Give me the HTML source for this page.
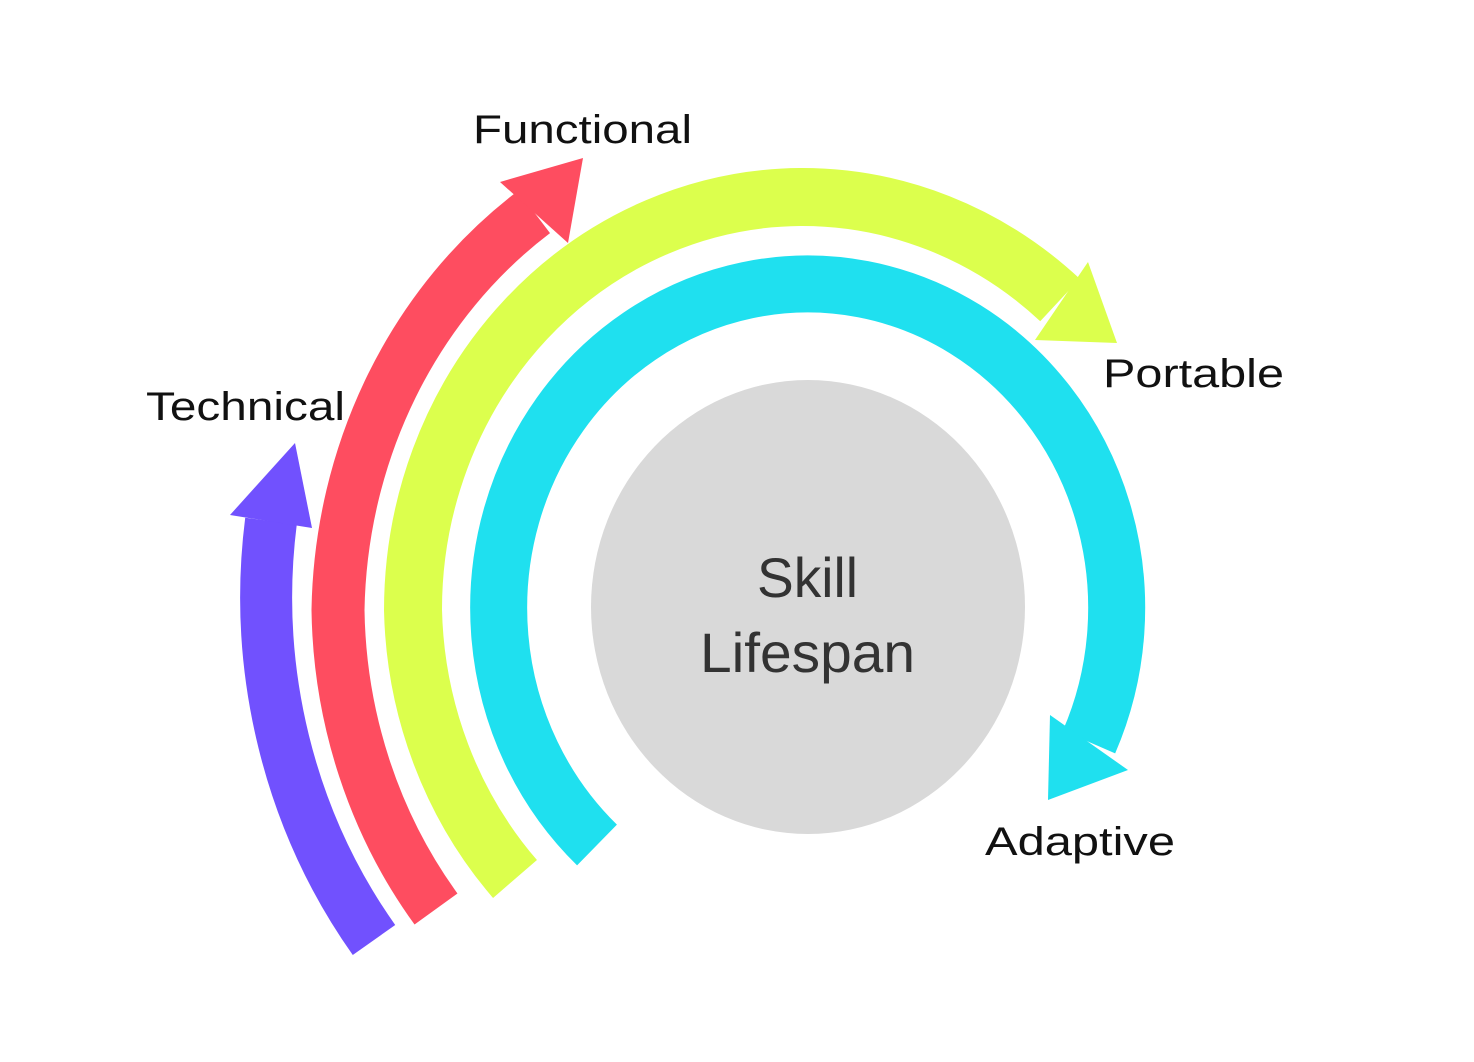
<!DOCTYPE html>
<html><head><meta charset="utf-8"><style>
html,body{margin:0;padding:0;background:#fff;}
svg{display:block;}
text{font-family:"Liberation Sans",sans-serif;}
</style></head><body>
<svg width="1474" height="1062" viewBox="0 0 1474 1062" xmlns="http://www.w3.org/2000/svg">
<rect width="1474" height="1062" fill="#fff"/>
<ellipse cx="808" cy="607" rx="217" ry="227" fill="#d9d9d9"/>
<!-- purple -->
<path d="M374 940 A536 570 0 0 1 271 521" fill="none" stroke="#7151fe" stroke-width="52"/>
<polygon points="230,515 295,443 312,528" fill="#7151fe"/>
<!-- red -->
<path d="M436 909 A462 498 0 0 1 338 610 A462 498 0 0 1 534 212" fill="none" stroke="#fe4d60" stroke-width="53"/>
<polygon points="500,182 583,158 568,243" fill="#fe4d60"/>
<!-- yellow -->
<path d="M515 879 A390 413 0 0 1 413 610 A390 413 0 0 1 800 197 A390 413 0 0 1 1060 300" fill="none" stroke="#dcff4d" stroke-width="58"/>
<polygon points="1088,262 1117,343 1035,340" fill="#dcff4d"/>
<!-- cyan -->
<path d="M597 845 A309 324 0 1 1 1089 742" fill="none" stroke="#1fe0ef" stroke-width="57"/>
<polygon points="1050,715 1128,770 1048,800" fill="#1fe0ef"/>
<text x="473" y="143" font-size="40" fill="#111" textLength="219" lengthAdjust="spacingAndGlyphs">Functional</text>
<text x="146" y="420" font-size="40" fill="#111" textLength="199" lengthAdjust="spacingAndGlyphs">Technical</text>
<text x="1103" y="387" font-size="40" fill="#111" textLength="181" lengthAdjust="spacingAndGlyphs">Portable</text>
<text x="985" y="855" font-size="40" fill="#111" textLength="190" lengthAdjust="spacingAndGlyphs">Adaptive</text>
<text x="757" y="597" font-size="56" fill="#333" textLength="101" lengthAdjust="spacingAndGlyphs">Skill</text>
<text x="700" y="672" font-size="56" fill="#333" textLength="215" lengthAdjust="spacingAndGlyphs">Lifespan</text>
</svg>
</body></html>
